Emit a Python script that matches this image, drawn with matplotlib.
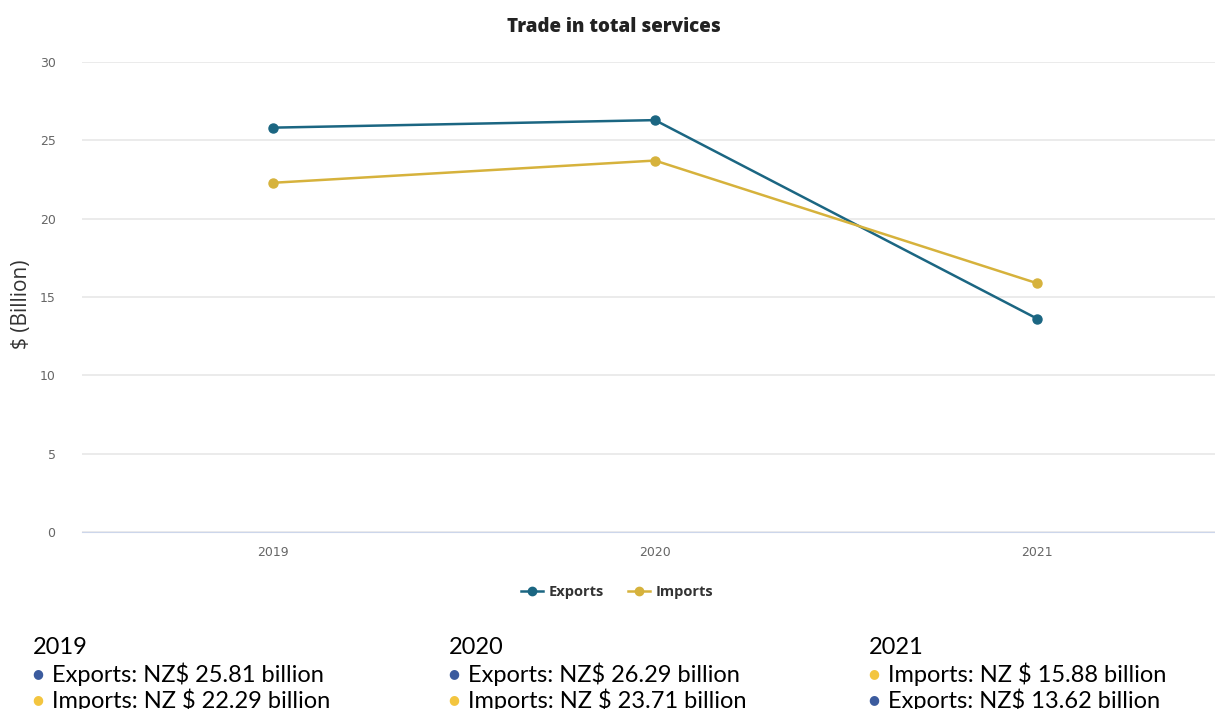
"""Trade in total services: exports vs imports, 2019-2021."""
import matplotlib
matplotlib.use("Agg")
import matplotlib.pyplot as plt
from matplotlib.lines import Line2D

years = ["2019", "2020", "2021"]
exports = [25.81, 26.29, 13.62]
imports = [22.29, 23.71, 15.88]
yticks = [0, 5, 10, 15, 20, 25, 30]

c_exp = "#1b6682"
c_imp = "#d6b23c"
dot_blue = "#3b5b9e"
dot_yellow = "#f3c53f"

W, H = 1215, 709
fig = plt.figure(figsize=(W / 100, H / 100), dpi=100)
ax = fig.add_axes([82 / W, (H - 532) / H, 1 - 82 / W, 470 / H])

x = range(len(years))
ax.plot(x, exports, color=c_exp, lw=1.8, marker="o", ms=6.5, zorder=3)
ax.plot(x, imports, color=c_imp, lw=1.8, marker="o", ms=6.5, zorder=3)

ax.set_xlim(-0.5, -0.5 + (W - 82) / 382)
ax.set_ylim(0, 30)
ax.set_yticks(yticks)
ax.set_xticks(list(x), years)
ax.grid(axis="y", color="#e8e8e8", lw=1.2)
ax.set_axisbelow(True)
for s in ["top", "right", "left"]:
    ax.spines[s].set_visible(False)
ax.spines["bottom"].set_color("#ccd6eb")
ax.spines["bottom"].set_zorder(2)
ax.tick_params(axis="both", length=0, labelsize=9, labelcolor="#666666")
ax.tick_params(axis="y", pad=19)
ax.tick_params(axis="x", pad=10)

fig.text(614 / W, 1 - 27 / H, "Trade in total services", ha="center", va="center",
         fontsize=13.5, fontweight="heavy", color="#222222", family="Open Sans")
fig.text(22 / W, 1 - 304 / H, "$ (Billion)", rotation=90, ha="center", va="center",
         fontsize=15, color="#333333", family="Open Sans")

handles = [Line2D([], [], color=c_exp, lw=1.8, marker="o", ms=6),
           Line2D([], [], color=c_imp, lw=1.8, marker="o", ms=6)]
fig.legend(handles, ["Exports", "Imports"], loc="center", bbox_to_anchor=(617 / W, 1 - 592 / H),
           ncol=2, frameon=False, handlelength=1.5, columnspacing=1.7, handletextpad=0.35,
           prop={"size": 10.5, "weight": "bold", "family": "Open Sans"}, labelcolor="#333333")

# value summary under the chart (last row is clipped at the bottom edge, as in the original)
cols = [
    (33, "2019", [(dot_blue, "Exports: NZ$ 25.81 billion"), (dot_yellow, "Imports: NZ $ 22.29 billion")]),
    (449, "2020", [(dot_blue, "Exports: NZ$ 26.29 billion"), (dot_yellow, "Imports: NZ $ 23.71 billion")]),
    (869, "2021", [(dot_yellow, "Imports: NZ $ 15.88 billion"), (dot_blue, "Exports: NZ$ 13.62 billion")]),
]
for x0, yr, rows in cols:
    fig.text(x0 / W, 1 - 647 / H, yr, ha="left", va="center", fontsize=17, color="black", family="Lato")
    for i, (c, txt) in enumerate(rows):
        yy = 1 - (674 + 26 * i) / H
        fig.text((x0 + 5) / W, yy, "\u25cf", ha="center", va="center", fontsize=9, color=c)
        fig.text((x0 + 19) / W, yy, txt, ha="left", va="center", fontsize=17, color="black", family="Lato")

fig.savefig("out.png", dpi=100)
